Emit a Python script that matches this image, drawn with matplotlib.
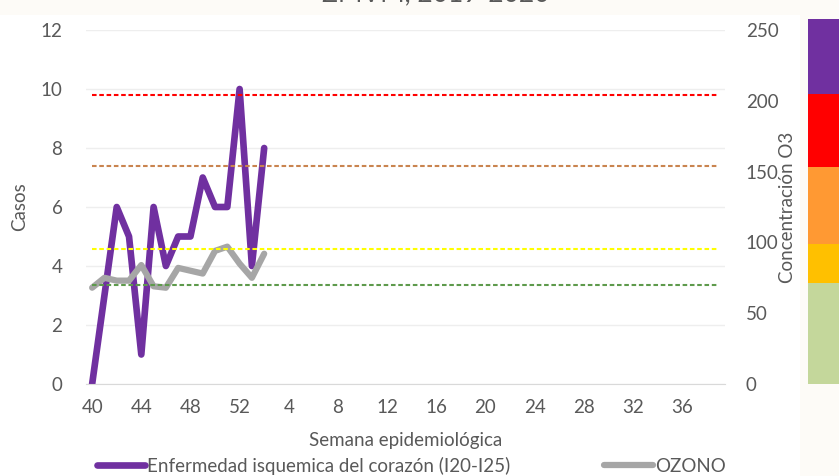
import matplotlib
matplotlib.use("Agg")
import matplotlib.pyplot as plt
from matplotlib.lines import Line2D
from matplotlib.patches import Rectangle
import numpy as np

plt.rcParams['font.family'] = ['Lato', 'DejaVu Sans']

# ---- data ----
weeks = list(range(40, 53)) + list(range(1, 40))
casos = [0, 3, 6, 5, 1, 6, 4, 5, 5, 7, 6, 6, 10, 4, 8]
ozono = [68, 75, 73, 73, 84, 69, 68, 82, 80, 78, 94, 97, 85, 75, 92]
umbrales = [70, 95, 154, 204]
umbral_colores = ['#5E9A4C', '#FFFF00', '#C9844F', '#FF0000']
bandas = [0, 71, 99, 153, 205, 258]
banda_colores = ['#C4D79B', '#FFC000', '#FF9933', '#FF0000', '#7030A0']
y_ticks = [0, 2, 4, 6, 8, 10, 12]
y2_ticks = [0, 50, 100, 150, 200, 250]
serie1 = 'Enfermedad isquemica del corazón (I20-I25)'
serie2 = 'OZONO'

FS = 13.5
W, H = 839, 476
fig = plt.figure(figsize=(W / 100, H / 100), dpi=100)
fig.patch.set_facecolor('#FDFBF7')
fig.patches.append(Rectangle((0, 0), 800 / W, 1 - 15 / H, transform=fig.transFigure,
                             facecolor='white', edgecolor='none', zorder=-10))

# partially visible title at very top (cut off in the reference as well)
fig.text(436 / W, 1 - 1 / H, 'ZMVM, 2019-2020', ha='center', va='baseline',
         fontsize=19, color='#595959')

L, R, T, B = 86, 725, 30, 384
ax = fig.add_axes([L / W, 1 - B / H, (R - L) / W, (B - T) / H])
ax.set_facecolor('none')
x = np.arange(len(weeks))
ax.set_xlim(-0.5, len(weeks) - 0.5)
ax.set_ylim(0, 12)
ax.set_yticks(y_ticks)
ax.grid(axis='y', color='#EEEEEE', lw=1)
ax.set_axisbelow(True)
for s in ['top', 'right', 'left']:
    ax.spines[s].set_visible(False)
ax.spines['bottom'].set_color('#D9D9D9')
ax.tick_params(length=0, labelsize=FS, colors='#595959')
ax.tick_params(axis='y', pad=17)
ax.tick_params(axis='x', pad=11)
ax.set_xticks(x[::4])
ax.set_xticklabels([str(w) for w in weeks[::4]])
ax.set_ylabel('Casos', fontsize=FS, color='#595959', labelpad=9)
ax.set_xlabel('Semana epidemiológica', fontsize=FS, color='#595959', labelpad=11)

ax.plot(x[:len(casos)], casos, color='#7030A0', lw=4.8, solid_joinstyle='round',
        solid_capstyle='round', zorder=2)

ax2 = ax.twinx()
ax2.set_ylim(0, 250)
ax2.set_yticks(y2_ticks)
for s in ['top', 'right', 'left', 'bottom']:
    ax2.spines[s].set_visible(False)
ax2.tick_params(length=0, labelsize=FS, colors='#595959', pad=15)
ax2.set_ylabel('Concentración O3', fontsize=FS, color='#595959', labelpad=0)
ax2.plot(x[:len(ozono)], ozono, color='#A6A6A6', lw=4.5, solid_joinstyle='round',
         solid_capstyle='round', zorder=3)
for v, c in zip(umbrales, umbral_colores):
    ax2.hlines(v, x[0], x[-1], colors=c, lw=1.5, linestyles=(0, (2.2, 1.3)), zorder=4)

# colour scale on the right
cax = fig.add_axes([808 / W, 1 - B / H, 0.06, (B - T) / H])
cax.set_zorder(-5)
cax.set_ylim(0, 250)
cax.set_xlim(0, 1)
cax.axis('off')
cax.bar([0.5] * len(banda_colores), np.diff(bandas), bottom=bandas[:-1], width=1,
        color=banda_colores, clip_on=False)

handles = [Line2D([], [], color='#7030A0', lw=4.8, solid_capstyle='round'),
           Line2D([], [], color='#A6A6A6', lw=4.5, solid_capstyle='round')]
fig.legend(handles, [serie1, serie2], loc='center', bbox_to_anchor=(411 / W, 1 - 466 / H),
           ncol=2, frameon=False, fontsize=FS, handlelength=2.6, handletextpad=0.1,
           columnspacing=5.0, labelcolor='#595959', borderpad=0)

fig.savefig('out.png', dpi=100, facecolor=fig.get_facecolor())
